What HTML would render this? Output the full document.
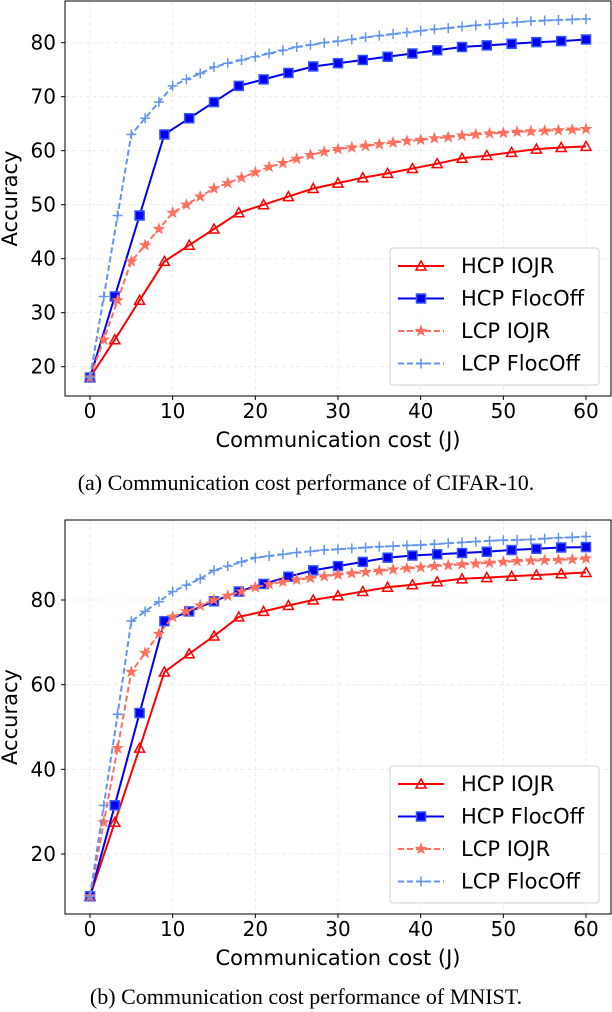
<!DOCTYPE html>
<html><head><meta charset="utf-8"><style>
html,body{margin:0;padding:0;background:#fff;}
svg{display:block;}
</style></head><body>
<svg id="fig" width="612" height="1012" viewBox="0 0 612 1012" xmlns="http://www.w3.org/2000/svg"></svg>
<script>
// ---- Data (a) CIFAR-10 ----
const xHigh = [0,3,6,9,12,15,18,21,24,27,30,33,36,39,42,45,48,51,54,57,60];
const a_hcpIOJR = [18,25,32.3,39.5,42.5,45.5,48.5,50,51.5,53,54,55,55.8,56.7,57.6,58.6,59.1,59.7,60.3,60.6,60.8];
const a_hcpFloc = [18,33,48,63,66,69,72,73.2,74.4,75.6,76.2,76.8,77.4,78,78.6,79.2,79.5,79.8,80.1,80.3,80.6];
const a_lcpIOJR = [18,25,32.3,39.5,42.5,45.5,48.5,50,51.5,53,54,55,56,57,57.7,58.5,59.2,59.8,60.3,60.6,60.9,61.2,61.5,61.8,62.0,62.3,62.5,62.8,63,63.2,63.3,63.5,63.6,63.7,63.8,63.9,64];
const a_lcpFloc = [18,33,48,63,66,69,72,73.2,74.3,75.5,76.2,76.8,77.4,78,78.6,79.2,79.6,80,80.3,80.6,81,81.3,81.6,81.9,82.2,82.5,82.7,83,83.2,83.4,83.6,83.8,84,84.1,84.2,84.3,84.4];
// ---- Data (b) MNIST ----
const b_hcpIOJR = [10,27.5,45,63,67.3,71.5,76,77.3,78.7,80,81,82,83,83.6,84.3,85,85.3,85.6,85.9,86.2,86.5];
const b_hcpFloc = [10,31.5,53.3,75,77.3,79.7,82,83.8,85.5,87,88,89,90,90.5,90.8,91.1,91.4,91.8,92.1,92.4,92.5];
const b_lcpIOJR = [10,27.5,45,63,67.5,72,76,77.3,78.7,80,81,82,83,83.7,84.3,84.8,85.2,85.6,86,86.3,86.6,86.9,87.2,87.5,87.7,88,88.2,88.4,88.6,88.8,89,89.2,89.3,89.4,89.5,89.6,89.8];
const b_lcpFloc = [10,31.5,53,75,77.3,79.6,82,83.5,85,87,88,89,90,90.4,90.8,91.2,91.5,91.8,92,92.2,92.4,92.6,92.7,92.9,93,93.2,93.4,93.6,93.8,94,94.1,94.2,94.3,94.5,94.7,94.8,95];
const xTicks = [0,10,20,30,40,50,60];
const aYTicks = [20,30,40,50,60,70,80];
const bYTicks = [20,40,60,80];
const legendLabels = ["HCP IOJR","HCP FlocOff","LCP IOJR","LCP FlocOff"];
const captions = ["(a) Communication cost performance of CIFAR-10.","(b) Communication cost performance of MNIST."];

const NS="http://www.w3.org/2000/svg";
const svg=document.getElementById('fig');
function mk(tag,attrs,parent){const e=document.createElementNS(NS,tag);for(const k in attrs)e.setAttribute(k,attrs[k]);(parent||svg).appendChild(e);return e;}
const xLow = a_lcpIOJR.map((_,i)=>i*60/(a_lcpIOJR.length-1));

function marker(g,type,x,y,color){
  if(type==='tri'){
    const m=mk('path',{d:`M${x},${y-5} L${x+5},${y+4} L${x-5},${y+4} Z`,fill:'none',stroke:color,'stroke-width':1.5},g);
    
  }else if(type==='sq'){
    const m=mk('rect',{x:x-4.5,y:y-4.5,width:9,height:9,fill:'#0000ee',stroke:'#3355ff','stroke-width':1.5},g);
    
  }else if(type==='star'){
    let p='';for(let k=0;k<10;k++){const r=k%2?2.2:5.5;const a=-Math.PI/2+k*Math.PI/5;p+=(k?'L':'M')+(x+r*Math.cos(a)).toFixed(1)+','+(y+r*Math.sin(a)).toFixed(1);}
    const m=mk('path',{d:p+'Z',fill:'#ff6f5e',stroke:'#ff6f5e','stroke-width':0.8},g);
    
  }else{
    const m=mk('path',{d:`M${x-5},${y} H${x+5} M${x},${y-5} V${y+5}`,stroke:color,'stroke-width':1.5},g);
    
  }
}
const styles=[
 {color:'#ff0000',dash:'',m:'tri'},
 {color:'#0000ee',dash:'',m:'sq'},
 {color:'#ff6f5e',dash:'6,3',m:'star'},
 {color:'#6495ed',dash:'6,3',m:'plus'}];

function chart(cfg){
  const {name,L,R,T,B,yTicks,series,legendY,tickY,xlabY,capY,cap}=cfg;
  const g=mk('g',{});
  const xs=v=>90+(v-0)*(586-90)/60;
  const ys=v=>cfg.y0+(v-cfg.v0)*cfg.k;
  xTicks.forEach(t=>{const l=mk('line',{x1:xs(t),x2:xs(t),y1:T,y2:B,stroke:'#e6e6e6','stroke-dasharray':'4,3','stroke-width':0.8},g);});
  yTicks.forEach(t=>{const l=mk('line',{x1:L,x2:R,y1:ys(t),y2:ys(t),stroke:'#e6e6e6','stroke-dasharray':'4,3','stroke-width':0.8},g);});
  series.forEach((s,i)=>{
    const st=styles[i];const xv=(i<2?xHigh:xLow);
    const sg=mk('g',{},g);
    const pts=s.map((v,j)=>xs(xv[j]).toFixed(1)+','+ys(v).toFixed(1)).join(' ');
    const pl=mk('polyline',{points:pts,fill:'none',stroke:st.color,'stroke-width':2,'stroke-dasharray':st.dash},sg);
    
    s.forEach((v,j)=>marker(sg,st.m,xs(xv[j]),ys(v),st.color));
  });
  const fr=mk('rect',{x:L,y:T,width:R-L,height:B-T,fill:'none',stroke:'#000','stroke-width':1},g);
  
  xTicks.forEach(t=>{
    mk('line',{x1:xs(t),x2:xs(t),y1:B,y2:B+4,stroke:'#000'},g);
    const tx=mk('text',{x:xs(t),y:tickY,'text-anchor':'middle','font-family':'DejaVu Sans, sans-serif','font-size':20},g);tx.textContent=t;
    
  });
  yTicks.forEach(t=>{
    mk('line',{x1:L-4,x2:L,y1:ys(t),y2:ys(t),stroke:'#000'},g);
    const tx=mk('text',{x:L-9,y:ys(t)+7,'text-anchor':'end','font-family':'DejaVu Sans, sans-serif','font-size':20},g);tx.textContent=t;
    
  });
  const xl=mk('text',{x:338,y:xlabY,'text-anchor':'middle','font-family':'DejaVu Sans, sans-serif','font-size':21},g);xl.textContent='Communication cost (J)';
  
  const cy=(T+B)/2;
  const yl=mk('text',{x:17,y:cy,'text-anchor':'middle','font-family':'DejaVu Sans, sans-serif','font-size':21,transform:`rotate(-90 17 ${cy})`},g);yl.textContent='Accuracy';
  
  const lg=mk('g',{},g);
  mk('rect',{x:390,y:legendY,width:209,height:137,rx:3,fill:'#fff','fill-opacity':0.85,stroke:'#d0d0d0'},lg);
  legendLabels.forEach((lab,i)=>{
    const yy=legendY+18+i*32.5;const st=styles[i];
    const e=mk('g',{},lg);
    mk('line',{x1:398,x2:444,y1:yy,y2:yy,stroke:st.color,'stroke-width':2,'stroke-dasharray':st.dash},e);
    marker(e,st.m,421,yy,st.color);
    const t=mk('text',{x:461,y:yy+7,'font-family':'DejaVu Sans, sans-serif','font-size':21},e);t.textContent=lab;
  });
  const c=mk('text',{x:306,y:capY,'text-anchor':'middle','font-family':'Liberation Serif, serif','font-size':22},g);c.textContent=cap;
  
}
chart({name:'chart-cifar10',L:65,R:611,T:1,B:396,yTicks:aYTicks,series:[a_hcpIOJR,a_hcpFloc,a_lcpIOJR,a_lcpFloc],
  v0:80,y0:42.7,k:-5.4,legendY:248,tickY:418,xlabY:447,capY:490,cap:captions[0]});
chart({name:'chart-mnist',L:65,R:611,T:520,B:914,yTicks:bYTicks,series:[b_hcpIOJR,b_hcpFloc,b_lcpIOJR,b_lcpFloc],
  v0:80,y0:600,k:-254/60,legendY:766,tickY:936,xlabY:965,capY:1004,cap:captions[1]});
</script>
</body></html>
